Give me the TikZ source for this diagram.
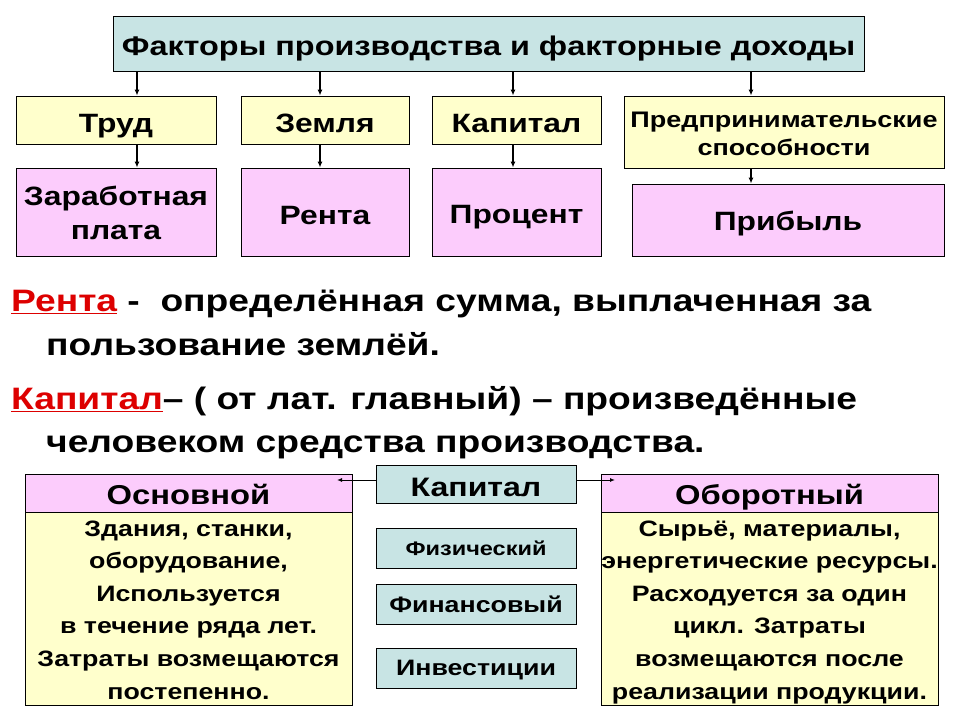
\documentclass[tikz,border=0pt]{standalone}
\usepackage{fontspec}
\setmainfont{Liberation Sans}[FakeStretch=1.2]
\usetikzlibrary{arrows.meta}
\definecolor{teal1}{HTML}{C8E4E4}
\definecolor{yel}{HTML}{FFFFCC}
\definecolor{pnk}{HTML}{FCCCFC}
\definecolor{redt}{HTML}{DD0000}
\newcommand{\fs}[2]{\fontsize{#1}{#2}\selectfont\bfseries}
\tikzset{
  box/.style={draw=black, line width=0.9pt, inner sep=0pt, align=center},
  tealbox/.style={box, fill=teal1},
  yelbox/.style={box, fill=yel},
  pnkbox/.style={box, fill=pnk},
  tb/.style 2 args={text height=#1pt, text depth=#2pt},
  arr/.style={line width=1.3pt, -{Latex[length=6pt,width=5pt]}},
  sarr/.style={line width=1pt, -{Latex[length=5pt,width=4pt]}},
  body/.style={anchor=base west, inner sep=0pt, font=\fs{31}{36}},
}
\begin{document}
\begin{tikzpicture}[x=1pt,y=-1pt]
\useasboundingbox[fill=white] (0,0) rectangle (960,720);
% title
\node[tealbox, minimum width=751pt, minimum height=55pt, font=\fs{27}{30}, tb={23.6}{0}] (title) at (488.5,43.5) {Факторы производства и факторные доходы};
% row 1
\node[yelbox, minimum width=200pt, minimum height=48pt, font=\fs{26.5}{32}, tb={24}{0}] (trud) at (116,120) {Труд};
\node[yelbox, minimum width=168pt, minimum height=48pt, font=\fs{26.5}{32}, tb={24}{0}] (zem) at (325,120) {Земля};
\node[yelbox, minimum width=169pt, minimum height=48pt, font=\fs{26.5}{32}, tb={24}{0}] (kapt) at (516.5,120) {Капитал};
\node[yelbox, minimum width=320pt, minimum height=72pt, font=\fs{22.5}{28}, tb={46}{0}] (pred) at (784,132) {Предпринимательские\\способности};
% row 2
\node[pnkbox, minimum width=200pt, minimum height=88pt, font=\fs{26.5}{34}, tb={54}{0}] (zp) at (116,212) {Заработная\\плата};
\node[pnkbox, minimum width=168pt, minimum height=88pt, font=\fs{26.5}{32}, tb={25}{0}] (renta) at (325,212) {Рента};
\node[pnkbox, minimum width=169pt, minimum height=88pt, font=\fs{26.5}{32}, tb={22}{0}] (proc) at (516.5,212) {Процент};
\node[pnkbox, minimum width=312pt, minimum height=72pt, font=\fs{26.5}{32}, tb={20}{0}] (prib) at (788,220) {Прибыль};
% arrows
\coordinate (a1) at (137,0);
\coordinate (a2) at (320,0);
\coordinate (a3) at (513,0);
\coordinate (a4) at (751,0);
\draw[arr] (a1 |- title.south) -- (a1 |- trud.north);
\draw[arr] (a2 |- title.south) -- (a2 |- zem.north);
\draw[arr] (a3 |- title.south) -- (a3 |- kapt.north);
\draw[arr] (a4 |- title.south) -- (a4 |- pred.north);
\draw[arr] (a1 |- trud.south) -- (a1 |- zp.north);
\draw[arr] (a2 |- zem.south) -- (a2 |- renta.north);
\draw[arr] (a3 |- kapt.south) -- (a3 |- proc.north);
\draw[arr] (a4 |- pred.south) -- (a4 |- prib.north);
% definitions
\node[body] (l1) at (11,311.5) {\textcolor{redt}{\underline{Рента}} -\ \ определённая сумма, выплаченная за};
\node[body] (l2) at (46,355) {пользование землёй.};
\node[body] (l3) at (11,409) {\textcolor{redt}{\underline{Капитал}}– ( от лат. главный) – произведённые};
\node[body] (l4) at (46,452) {человеком средства производства.};
% bottom
\node[pnkbox, minimum width=327pt, minimum height=38pt, font=\fs{27.3}{30}, tb={22.6}{0}] (osnh) at (188.5,493) {Основной};
\node[yelbox, minimum width=327pt, minimum height=193pt, font=\fs{22.3}{32.6}, tb={181}{0}] (osnb) at (188.5,608.5) {Здания, станки,\\оборудование,\\Используется\\в течение ряда лет.\\Затраты возмещаются\\постепенно.};
\node[pnkbox, minimum width=337pt, minimum height=38pt, font=\fs{27.3}{30}, tb={22.6}{0}] (oboh) at (769.5,493) {Оборотный};
\node[yelbox, minimum width=337pt, minimum height=193pt, font=\fs{22.3}{32.6}, tb={181}{0}] (obob) at (769.5,608.5) {Сырьё, материалы,\\энергетические ресурсы.\\Расходуется за один\\цикл. Затраты\\возмещаются после\\реализации продукции.};
\node[tealbox, minimum width=200pt, minimum height=38pt, font=\fs{26.7}{30}, tb={25}{0}] (kap) at (476,484) {Капитал};
\node[tealbox, minimum width=200pt, minimum height=40pt, font=\fs{19.6}{22}, tb={14}{0}] (fiz) at (476,548) {Физический};
\node[tealbox, minimum width=200pt, minimum height=40pt, font=\fs{22.3}{26}, tb={16}{0}] (fin) at (476,604) {Финансовый};
\node[tealbox, minimum width=200pt, minimum height=40pt, font=\fs{22.3}{26}, tb={15}{0}] (inv) at (476,668) {Инвестиции};
\coordinate (la) at (337,480);
\coordinate (ra) at (615,480);
\draw[sarr] ([yshift=4pt]kap.west) -- (la);
\draw[sarr] ([yshift=4pt]kap.east) -- (ra);
\end{tikzpicture}
\end{document}
